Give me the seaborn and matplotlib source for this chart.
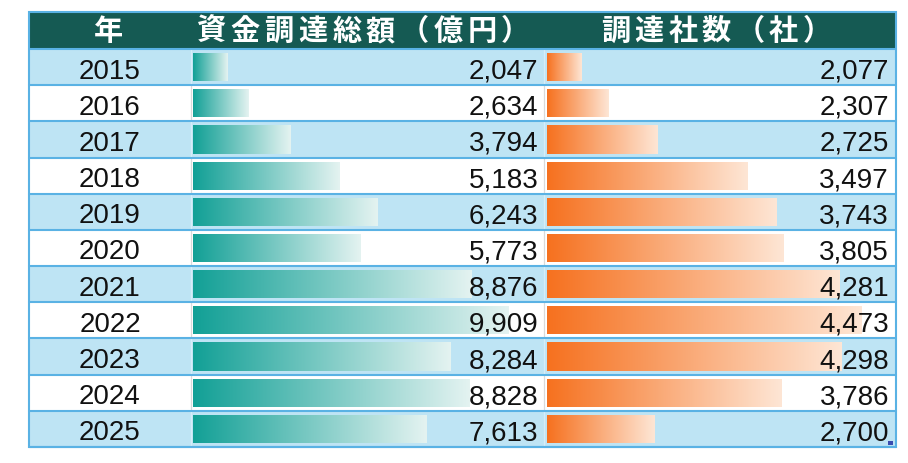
import numpy as np
import pandas as pd
import matplotlib
matplotlib.use("Agg")
import matplotlib.pyplot as plt
import seaborn as sns
from matplotlib.patches import Rectangle
from matplotlib.colors import LinearSegmentedColormap

# ---- data ----
years = ["2015", "2016", "2017", "2018", "2019", "2020", "2021", "2022", "2023", "2024", "2025"]
funding = [2047, 2634, 3794, 5183, 6243, 5773, 8876, 9909, 8284, 8828, 7613]
companies = [2077, 2307, 2725, 3497, 3743, 3805, 4281, 4473, 4298, 3786, 2700]
header_year = "年"
header_funding = "資金調達総額（億円）"
header_companies = "調達社数（社）"

sns.set_theme(style="white")
plt.rcParams['font.family'] = ['Liberation Sans', 'Noto Sans CJK JP', 'DejaVu Sans']

W, H = 908, 464
fig = plt.figure(figsize=(W / 100, H / 100), dpi=100)
fig.patch.set_facecolor("white")
ax = fig.add_axes([0, 0, 1, 1])
ax.set_xlim(0, W)
ax.set_ylim(H, 0)
ax.axis("off")

L, R, T, B = 28.5, 895.5, 12.5, 448.0
HB = 50.0
n = len(years)
rh = (B - HB) / n
col_x = [L, 190.5, 543.5, R]

HEADER_BG = "#155a53"
ROW_BLUE = "#bee4f4"
LINE = "#5ab2e4"
TXT = "#111111"

# header band
ax.add_patch(Rectangle((L, T), R - L, HB - T, fc=HEADER_BG, ec="none", zorder=0))
# row bands + vertical separators
for i in range(n):
    y0 = HB + i * rh
    blue = (i % 2 == 0)
    fc = ROW_BLUE if blue else "white"
    ax.add_patch(Rectangle((L, y0), R - L, rh, fc=fc, ec="none", zorder=0))
    sep = "#d6edf8" if blue else "#dadada"
    for x in col_x[1:3]:
        ax.plot([x, x], [y0, y0 + rh], color=sep, lw=0.9, zorder=1)
# horizontal grid lines
for i in range(n + 1):
    y = HB + i * rh
    ax.plot([L, R], [y, y], color=LINE, lw=1.5, zorder=1)
# outer border
ax.add_patch(Rectangle((L, T), R - L, B - T, fc="none", ec=LINE, lw=1.5, zorder=3))
# resize handle
ax.add_patch(Rectangle((888, 441.5), 4.5, 4.5, fc="#3a4cb0", ec="none", zorder=4))

# header text (spaced characters)
hy = 31.0
HFS = 21
ax.text(108.5, hy, header_year, ha="center", va="center", color="white",
        fontsize=HFS, fontweight="bold", family=["Noto Sans CJK JP"], zorder=5)
for i, ch in enumerate(header_funding):
    ax.text(211.5 + i * 33.8, hy, ch, ha="center", va="center", color="white",
            fontsize=HFS, fontweight="bold", family=["Noto Sans CJK JP"], zorder=5)
for i, ch in enumerate(header_companies):
    ax.text(615.5 + i * 33.6, hy, ch, ha="center", va="center", color="white",
            fontsize=HFS, fontweight="bold", family=["Noto Sans CJK JP"], zorder=5)


def bar_column(vals, x_left, width_px, c_start, c_end):
    axb = fig.add_axes([x_left / W, (H - B) / H, width_px / W, (B - HB) / H])
    df = pd.DataFrame({"year": years, "value": vals})
    sns.barplot(data=df, x="value", y="year", orient="h", order=years,
                color=c_start, width=0.78, saturation=1, ax=axb)
    vmin, vmax = min(vals), max(vals)
    span = (vmax - vmin) / 0.8
    lo = vmin - 0.1 * span
    hi = lo + span
    cmap = LinearSegmentedColormap.from_list("g", [c_start, c_end])
    grad = np.linspace(0, 1, 256).reshape(1, -1)
    for p in list(axb.patches):
        x1 = p.get_x() + p.get_width()
        yb = p.get_y()
        h = p.get_height()
        im = axb.imshow(grad, cmap=cmap, extent=(lo, x1, yb + h, yb),
                        aspect="auto", interpolation="bilinear", zorder=2)
        im.set_clip_path(p)
        p.set_facecolor("none")
        p.set_edgecolor("none")
    axb.set_xlim(lo, hi)
    axb.set_ylim(n - 0.5, -0.5)
    axb.axis("off")
    axb.patch.set_alpha(0)
    return axb


bar_column(funding, 192.5, 350.0, "#12a096", "#e4f3f1")
bar_column(companies, 546.5, 350.0, "#f6711f", "#fee6d5")

# text overlay axes (on top of bars)
axt = fig.add_axes([0, 0, 1, 1])
axt.set_xlim(0, W)
axt.set_ylim(H, 0)
axt.axis("off")
axt.patch.set_alpha(0)
for i in range(n):
    yc = HB + (i + 0.5) * rh
    base = yc + 10.5
    axt.text(110.0, base, years[i], ha="center", va="baseline", color=TXT, fontsize=20)
    axt.text(538.5, base, f"{funding[i]:,}", ha="right", va="baseline", color=TXT, fontsize=20)
    axt.text(889.0, base, f"{companies[i]:,}", ha="right", va="baseline", color=TXT, fontsize=20)

fig.savefig("out.png", dpi=100)
